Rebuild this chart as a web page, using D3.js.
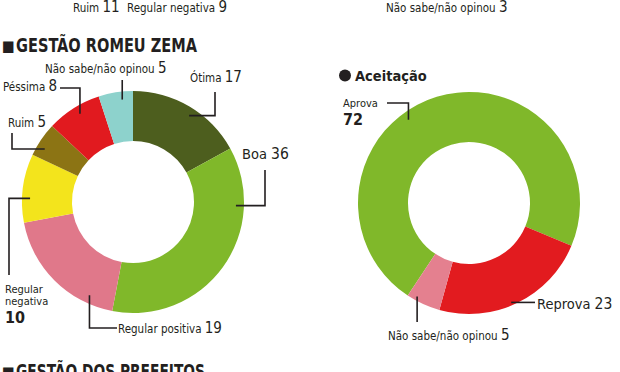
<!DOCTYPE html>
<html><head><meta charset="utf-8">
<script src="https://cdn.jsdelivr.net/npm/d3@7"></script>
<style>
body{margin:0;background:#fff;}
svg{display:block;}
text{font-family:"Liberation Sans Narrow","DejaVu Sans Condensed",sans-serif;fill:#231f20;}
</style></head><body>
<svg id="chart" width="620" height="372"></svg>
<script>
// ---- data ----
const zemaCategories = ["Ótima", "Boa", "Regular positiva", "Regular negativa", "Ruim", "Péssima", "Não sabe/não opinou"];
const zemaValues = [17, 36, 19, 10, 5, 8, 5];
const aceitacaoCategories = ["Aprova", "Reprova", "Não sabe/não opinou"];
const aceitacaoValues = [72, 23, 5];
// labels of the chart above, cropped at the top edge
const headerCategories = ["Ruim", "Regular negativa", "Não sabe/não opinou"];
const headerValues = [11, 9, 3];
const titles = ["GESTÃO ROMEU ZEMA", "GESTÃO DOS PREFEITOS"];
const subtitle = "Aceitação";

// ---- styles / layout ----
const zemaColors = ["#4d5e1e", "#80b82a", "#e0788a", "#f3e41c", "#8c7414", "#e11a1f", "#8dd2cc"];
const aceitacaoColors = ["#80b82a", "#e21b1f", "#e4808f"];
const R_OUT = 111, R_IN = 61;

// leader layout: anchor angle (deg), anchor radius, orthogonal legs (relative to center), text pos, multiline
const zemaLabelLayout = [
  {a: 33, r: 103, legs: [{x: 82}, {y: -110}], tx: 57, ty: -120},
  {a: 92, r: 103, legs: [{x: 132}, {y: -32}], tx: 109, ty: -43, big: true},
  {a: 205, r: 103, legs: [{y: 126}, {x: -16}], tx: -15, ty: 131},
  {a: 272, r: 103, legs: [{x: -124}, {y: 73}], tx: -128, ty: 91, multi: true},
  {a: 301, r: 103, legs: [{x: -121}, {y: -69}], tx: -125, ty: -75},
  {a: 329, r: 103, legs: [{y: -114}, {x: -73}], tx: -130, ty: -111},
  {a: 354, r: 103, legs: [{y: -122}], tx: -88, ty: -129}
];
const aceitacaoLabelLayout = [
  {a: 324, r: 103, legs: [{y: -100}, {x: -82}], tx: -126, ty: -96, multi: true},
  {a: 157, r: 108, legs: [{x: 66}], tx: 68, ty: 106, big: true},
  {a: 209, r: 107, legs: [{y: 119}], tx: -81, ty: 137}
];

const svg = d3.select("#chart");

function drawDonut(cx, cy, cats, vals, colors, startDeg, layout) {
  const s = startDeg * Math.PI / 180;
  const pie = d3.pie().sort(null).startAngle(s).endAngle(s + 2 * Math.PI);
  const arc = d3.arc().innerRadius(R_IN).outerRadius(R_OUT);
  const g = svg.append("g").attr("transform", `translate(${cx},${cy})`);
  g.selectAll("path.slice").data(pie(vals)).join("path")
    .attr("class", "slice").attr("d", arc).attr("fill", (d, i) => colors[i]);

  const line = d3.line();
  layout.forEach((L, i) => {
    const ang = L.a * Math.PI / 180;
    let p = [L.r * Math.sin(ang), -L.r * Math.cos(ang)];
    const pts = [p.slice()];
    L.legs.forEach(leg => {
      if (leg.x !== undefined) p = [leg.x, p[1]]; else p = [p[0], leg.y];
      pts.push(p.slice());
    });
    g.append("path").attr("d", line(pts)).attr("fill", "none")
      .attr("stroke", "#231f20").attr("stroke-width", 1.6);

    const t = g.append("text").attr("x", L.tx).attr("y", L.ty);
    if (L.multi) {
      const words = cats[i].split(" ");
      words.forEach((w, k) => {
        t.append("tspan").attr("x", L.tx).attr("dy", k === 0 ? 0 : 12)
          .attr("font-size", 11).text(w);
      });
      t.append("tspan").attr("x", L.tx).attr("dy", 18).attr("font-size", 16)
        .attr("font-weight", "bold").text(vals[i]);
    } else {
      t.append("tspan").attr("font-size", L.big ? 14.5 : 11.5).text(cats[i] + " ");
      t.append("tspan").attr("font-size", L.big ? 15.5 : 15).text(vals[i]);
    }
  });
}

// header (cropped labels from chart above)
const headerX = [73, 127, 386];
headerCategories.forEach((c, i) => {
  const t = svg.append("text").attr("x", headerX[i]).attr("y", 12);
  t.append("tspan").attr("font-size", 11.5).text(c + " ");
  t.append("tspan").attr("font-size", 15).text(headerValues[i]);
});

// titles
function title(y, str, len) {
  svg.append("text").attr("x", 2).attr("y", y - 1).attr("font-size", 15).text("■");
  svg.append("text").attr("x", 16).attr("y", y).attr("font-size", 20).attr("font-weight", "bold")
    .attr("textLength", len).attr("lengthAdjust", "spacingAndGlyphs").text(str);
}
title(52, titles[0], 181);
title(378, titles[1], 189);

// subtitle
svg.append("circle").attr("cx", 345).attr("cy", 75.5).attr("r", 6).attr("fill", "#231f20");
svg.append("text").attr("x", 355).attr("y", 81).attr("font-size", 14.5).attr("font-weight", "bold").text(subtitle);

drawDonut(133, 202, zemaCategories, zemaValues, zemaColors, 0, zemaLabelLayout);
drawDonut(469, 203, aceitacaoCategories, aceitacaoValues, aceitacaoColors, 213.5, aceitacaoLabelLayout);
</script>
</body></html>
